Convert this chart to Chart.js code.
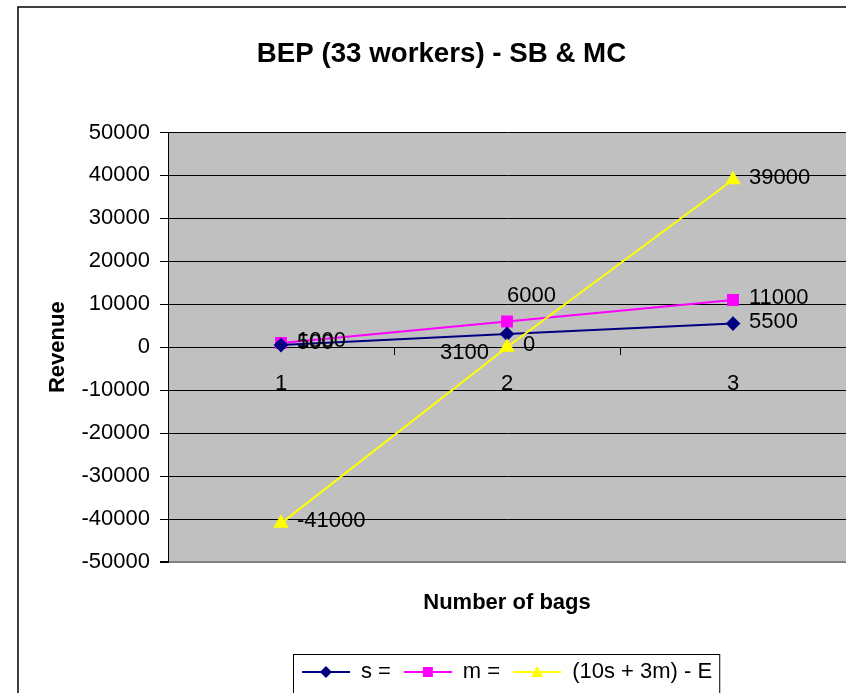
<!DOCTYPE html>
<html>
<head>
<meta charset="utf-8">
<title>BEP (33 workers) - SB &amp; MC</title>
<script src="https://cdn.jsdelivr.net/npm/chart.js@4"></script>
<style>
  body { margin:0; background:#fff; }
  #wrap { width:846px; height:693px; position:relative; }
</style>
</head>
<body>
<div id="wrap"><canvas id="bep"></canvas></div>
<script>
const bags = ['1', '2', '3'];
const sVals = [500, 3100, 5500];
const mVals = [1000, 6000, 11000];
const netVals = [-41000, 0, 39000];
const seriesNames = ['s =', 'm =', '(10s + 3m) - E'];
const yMin = -50000, yMax = 50000, yStep = 10000;
// where the data labels sit relative to their points
const sLabelPos = ['right', 'leftBelow', 'right'];
const mLabelPos = ['right', 'above', 'right'];
const netLabelPos = ['right', 'right', 'right'];

const FONT = 'Arial, "Liberation Sans", sans-serif';
Chart.defaults.font.family = FONT;
Chart.defaults.color = '#000';

function legendIcon(color, shape) {
  const c = document.createElement('canvas');
  c.width = 48; c.height = 14;
  const g = c.getContext('2d');
  g.strokeStyle = color; g.fillStyle = color; g.lineWidth = 2;
  g.beginPath(); g.moveTo(0, 7); g.lineTo(48, 7); g.stroke();
  g.beginPath();
  if (shape === 'diamond') { g.moveTo(24, 1); g.lineTo(30, 7); g.lineTo(24, 13); g.lineTo(18, 7); }
  else if (shape === 'square') { g.rect(19, 2, 10, 10); }
  else { g.moveTo(24, 1); g.lineTo(30, 12); g.lineTo(18, 12); }
  g.closePath(); g.fill();
  return c;
}
const icons = [legendIcon('#000080', 'diamond'), legendIcon('#ff00ff', 'square'), legendIcon('#ffff00', 'tri')];

const valueLabels = {
  id: 'valueLabels',
  afterDatasetsDraw(chart) {
    const ctx = chart.ctx;
    ctx.save();
    ctx.font = '22px ' + FONT;
    ctx.fillStyle = '#000';
    ctx.textBaseline = 'middle';
    chart.data.datasets.forEach((ds, di) => {
      chart.getDatasetMeta(di).data.forEach((pt, i) => {
        const pos = ds.labelPos[i];
        let x = pt.x + 16, y = pt.y - 2;
        ctx.textAlign = 'left';
        if (pos === 'above') { x = pt.x; y = pt.y - 26; }
        if (pos === 'leftBelow') { ctx.textAlign = 'right'; x = pt.x - 18; y = pt.y + 19; }
        ctx.fillText(String(ds.data[i]), x, y);
      });
    });
    ctx.restore();
  }
};

const frame = {
  id: 'frame',
  beforeDraw(chart) {
    const {ctx, chartArea: a, width, height} = chart;
    ctx.save();
    ctx.fillStyle = '#fff';
    ctx.fillRect(0, 0, width, height);
    ctx.strokeStyle = '#000'; ctx.lineWidth = 1.5;
    ctx.strokeRect(18, 7, width + 20, height + 20);
    ctx.fillStyle = '#c0c0c0';
    ctx.fillRect(a.left, a.top, a.right - a.left, a.bottom - a.top);
    ctx.restore();
  },
  afterDraw(chart) {
    const hb = chart.legend.legendHitBoxes;
    if (!hb || !hb.length) return;
    const last = hb[hb.length - 1];
    const left = hb[0].left - 9, right = last.left + last.width + 7;
    const top = hb[0].top + hb[0].height / 2 - 18;
    const ctx = chart.ctx;
    ctx.save();
    ctx.strokeStyle = '#000'; ctx.lineWidth = 1;
    ctx.strokeRect(Math.round(left) + 0.5, Math.round(top) + 0.5, right - left, chart.height);
    ctx.restore();
  }
};

new Chart(document.getElementById('bep'), {
  type: 'line',
  data: {
    labels: bags,
    datasets: [
      { label: seriesNames[0], data: sVals, labelPos: sLabelPos, order: 1,
        borderColor: '#000080', backgroundColor: '#000080', borderWidth: 2,
        pointStyle: 'rectRot', pointRadius: 6, pointHoverRadius: 6 },
      { label: seriesNames[1], data: mVals, labelPos: mLabelPos, order: 2,
        borderColor: '#ff00ff', backgroundColor: '#ff00ff', borderWidth: 2,
        pointStyle: 'rect', pointRadius: 7, pointHoverRadius: 7 },
      { label: seriesNames[2], data: netVals, labelPos: netLabelPos, order: 0,
        borderColor: '#ffff00', backgroundColor: '#ffff00', borderWidth: 2,
        pointStyle: 'triangle', pointRadius: 7, pointHoverRadius: 7 }
    ]
  },
  options: {
    responsive: true,
    maintainAspectRatio: false,
    animation: false,
    layout: { autoPadding: false, padding: { left: 37, top: 0, right: 0, bottom: 0 } },
    plugins: {
      title: {
        display: true, text: 'BEP (33 workers) - SB & MC', color: '#000',
        font: { size: 27.7, weight: 'bold' }, padding: { top: 38, bottom: 61.2 }
      },
      legend: {
        position: 'bottom', fullSize: false,
        labels: {
          usePointStyle: true, pointStyleWidth: 48, padding: 13,
          font: { size: 22 }, color: '#000',
          generateLabels: chart => chart.data.datasets.map((ds, i) => ({
            text: ds.label, pointStyle: icons[i], fillStyle: ds.borderColor,
            strokeStyle: ds.borderColor, lineWidth: 0, hidden: false, datasetIndex: i
          }))
        }
      },
      tooltip: { enabled: false }
    },
    scales: {
      y: {
        min: yMin, max: yMax,
        afterFit(scale) { scale.width = 131; },
        ticks: { stepSize: yStep, padding: 10, font: { size: 22 }, color: '#000', callback: v => String(v) },
        grid: { color: c => c.tick && c.tick.value === yMin ? '#808080' : '#000', lineWidth: c => c.tick && c.tick.value === yMin ? 2 : 1, tickLength: 8, tickColor: '#000' },
        border: { color: '#000', width: 1 },
        title: { display: true, text: 'Revenue', font: { size: 22, weight: 'bold' }, color: '#000', padding: { top: 8, bottom: 4 } }
      },
      x: {
        position: { y: 0 }, offset: true,
        afterFit(scale) { scale.paddingLeft = 0; scale.paddingRight = 0; },
        ticks: { padding: 17, font: { size: 22 }, color: '#000' },
        grid: { display: true, drawOnChartArea: false, offset: true, tickLength: 7, tickColor: '#000' },
        border: { color: '#000', width: 1 }
      },
      xb: {
        type: 'category', position: 'bottom', offset: true,
        afterFit(scale) { scale.height = 86; scale.paddingLeft = 0; scale.paddingRight = 0; },
        ticks: { display: false },
        grid: { display: false },
        border: { display: false },
        title: { display: true, text: 'Number of bags', font: { size: 22, weight: 'bold' }, color: '#000', padding: { top: 4, bottom: 31.8 } }
      }
    }
  },
  plugins: [frame, valueLabels]
});
</script>
</body>
</html>
